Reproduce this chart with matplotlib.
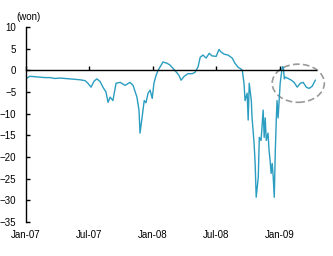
import numpy as np
import pandas as pd
import matplotlib
matplotlib.use("Agg")
import matplotlib.pyplot as plt
import matplotlib.dates as mdates
from matplotlib.patches import Ellipse

plt.rcParams['font.family'] = ['Liberation Sans', 'DejaVu Sans']

# won spread
dates = ["2007-01-02", "2007-01-12", "2007-01-27", "2007-02-10", "2007-02-25",
         "2007-03-11", "2007-03-25", "2007-04-09", "2007-04-23", "2007-05-08",
         "2007-05-22", "2007-06-05", "2007-06-20", "2007-06-28", "2007-07-07",
         "2007-07-16", "2007-07-24", "2007-08-02", "2007-08-11", "2007-08-19",
         "2007-08-25", "2007-08-31", "2007-09-08", "2007-09-17", "2007-09-29",
         "2007-10-13", "2007-10-27", "2007-11-05", "2007-11-16", "2007-11-22",
         "2007-11-25", "2007-12-01", "2007-12-07", "2007-12-12", "2007-12-18",
         "2007-12-24", "2007-12-30", "2008-01-04", "2008-01-10", "2008-01-16",
         "2008-01-22", "2008-01-30", "2008-02-11", "2008-02-19", "2008-02-28",
         "2008-03-08", "2008-03-16", "2008-03-22", "2008-03-31", "2008-04-11",
         "2008-04-23", "2008-05-01", "2008-05-10", "2008-05-16", "2008-05-24",
         "2008-06-02", "2008-06-11", "2008-06-19", "2008-07-01", "2008-07-09",
         "2008-07-15", "2008-07-24", "2008-08-04", "2008-08-16", "2008-08-24",
         "2008-09-02", "2008-09-08", "2008-09-14", "2008-09-19", "2008-09-22",
         "2008-09-28", "2008-10-01", "2008-10-04", "2008-10-10", "2008-10-12",
         "2008-10-18", "2008-10-21", "2008-10-24", "2008-10-30", "2008-11-02",
         "2008-11-07", "2008-11-13", "2008-11-16", "2008-11-19", "2008-11-22",
         "2008-11-27", "2008-11-30", "2008-12-03", "2008-12-06", "2008-12-09",
         "2008-12-12", "2008-12-15", "2008-12-18", "2008-12-21", "2008-12-23",
         "2008-12-26", "2008-12-29", "2009-01-01", "2009-01-07", "2009-01-10",
         "2009-01-13", "2009-01-16", "2009-01-24", "2009-02-02", "2009-02-10",
         "2009-02-19", "2009-02-28", "2009-03-08", "2009-03-17", "2009-03-25",
         "2009-04-03", "2009-04-12"]
values = [-1.9, -1.4, -1.5, -1.6, -1.7,
          -1.7, -1.9, -1.8, -1.9, -2.0,
          -2.1, -2.2, -2.4, -3.0, -3.9,
          -2.5, -2.0, -2.6, -4.0, -5.0,
          -7.4, -6.2, -7.0, -3.0, -2.8,
          -3.5, -2.8, -3.5, -6.2, -9.2,
          -14.5, -10.8, -7.0, -7.5, -5.3,
          -4.6, -6.5, -3.0, -1.2, 0.0,
          0.8, 1.9, 1.6, 1.2, 0.4,
          -0.4, -1.2, -2.3, -1.4, -0.8,
          -0.8, -0.5, 0.8, 3.0, 3.5,
          2.8, 3.9, 3.3, 3.2, 4.8,
          4.2, 3.7, 3.5, 2.8, 1.6,
          0.7, 0.4, 0.0, -3.0, -7.0,
          -5.3, -11.5, -3.0, -7.0, -10.8,
          -16.9, -21.5, -29.3, -24.7, -15.5,
          -16.2, -9.2, -15.5, -11.0, -16.2,
          -14.5, -18.5, -20.8, -23.8, -21.5,
          -24.7, -29.3, -18.5, -11.0, -7.0,
          -11.0, -7.0, -3.0, 0.8, 0.7,
          -2.0, -1.6, -1.9, -2.3, -2.8,
          -3.9, -3.0, -2.8, -3.9, -4.2,
          -3.7, -2.3]

tick_dates = ["2007-01-01", "2007-07-01", "2008-01-01", "2008-07-01", "2009-01-01"]
tick_labels = ["Jan-07", "Jul-07", "Jan-08", "Jul-08", "Jan-09"]
y_ticks = [10, 5, 0, -5, -10, -15, -20, -25, -30, -35]

x = pd.to_datetime(dates)
xt = pd.to_datetime(tick_dates)

fig = plt.figure(figsize=(3.33, 2.56), dpi=100)
ax = fig.add_axes([0.078, 0.133, 0.872, 0.762])

ax.plot(x, values, color="#2a9dc0", lw=1.0)

ax.set_ylim(-35, 10)
ax.set_xlim(pd.Timestamp("2007-01-01"), pd.Timestamp("2009-04-15"))
ax.set_yticks(y_ticks)
ax.tick_params(axis='y', direction='in', length=3, width=1, labelsize=7, pad=7)

# zero line carries the x tick marks, labels go at the bottom
ax.spines['bottom'].set_position(('data', 0))
ax.spines['top'].set_visible(False)
ax.spines['right'].set_visible(False)
ax.spines['left'].set_linewidth(1)
ax.spines['bottom'].set_linewidth(1)
ax.set_xticks(xt)
ax.set_xticklabels([])
ax.tick_params(axis='x', direction='in', length=3, width=1)

sec = ax.secondary_xaxis('bottom')
sec.set_xticks(xt)
sec.set_xticklabels(tick_labels)
sec.tick_params(axis='x', length=0, labelsize=7, pad=6)
sec.spines['bottom'].set_visible(False)

fig.text(0.048, 0.935, "(won)", fontsize=7, ha='left', va='center')

cx = mdates.date2num(pd.Timestamp("2009-02-22"))
ell = Ellipse((cx, -3.0), width=150, height=8.8, fill=False,
              edgecolor="#9a9a9a", ls=(0, (4, 2)), lw=1.2, clip_on=False)
ax.add_patch(ell)

fig.savefig("out.png", dpi=100)
